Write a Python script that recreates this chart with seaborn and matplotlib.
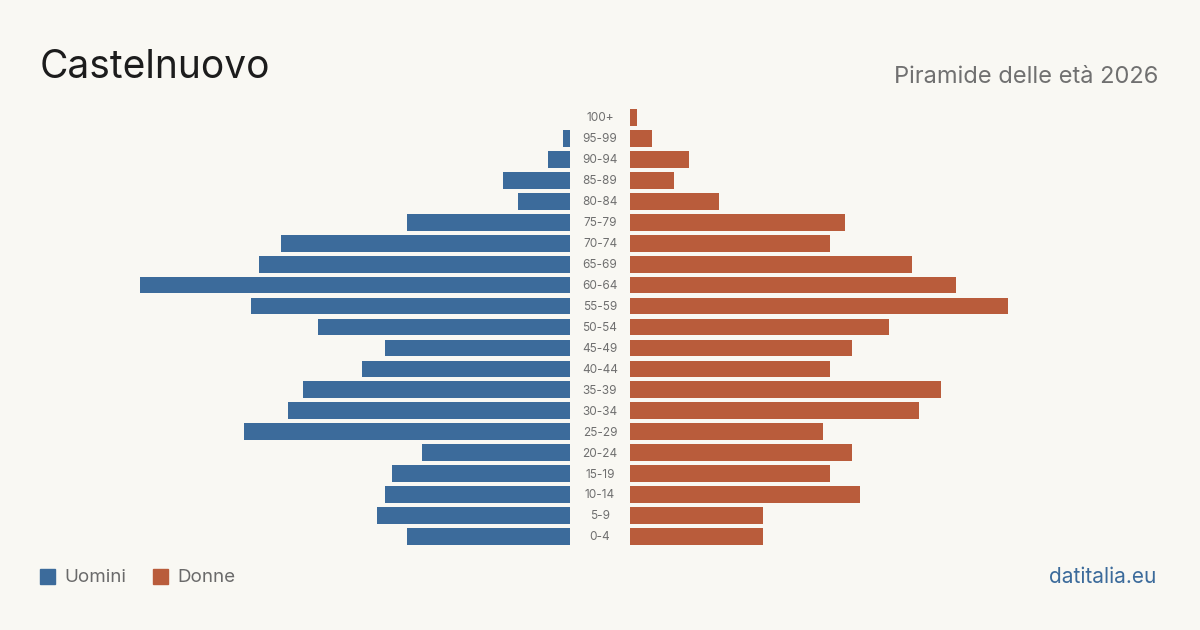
import numpy as np
import pandas as pd
import matplotlib.pyplot as plt
import seaborn as sns

# Age classes, from top (oldest) to bottom
age_groups = ['100+', '95-99', '90-94', '85-89', '80-84', '75-79', '70-74', '65-69',
              '60-64', '55-59', '50-54', '45-49', '40-44', '35-39', '30-34', '25-29',
              '20-24', '15-19', '10-14', '5-9', '0-4']
men = [0, 1, 3, 9, 7, 22, 39, 42, 58, 43, 34, 25, 28, 36, 38, 44, 20, 24, 25, 26, 22]
women = [1, 3, 8, 6, 12, 29, 27, 38, 44, 51, 35, 30, 27, 42, 39, 26, 30, 27, 31, 18, 18]

blue = '#3c6b9b'
orange = '#b95c3b'
bg = '#f9f8f3'

df = pd.DataFrame({'age': age_groups, 'Uomini': men, 'Donne': women})

sns.set_theme(style='white')
plt.rcParams['font.family'] = ['Inter', 'DejaVu Sans']

fig = plt.figure(figsize=(12, 6.3), dpi=100, facecolor=bg)

# pixel geometry -> figure fractions
W, H = 1200, 630
top_px, bot_px = 107, 547
xmax = 71.5
ax_l = fig.add_axes([40 / W, 1 - bot_px / H, 530 / W, (bot_px - top_px) / H])
ax_r = fig.add_axes([630 / W, 1 - bot_px / H, 530 / W, (bot_px - top_px) / H])

sns.barplot(data=df, x='Uomini', y='age', ax=ax_l, color=blue, width=0.8,
            orient='h', saturation=1, linewidth=0)
sns.barplot(data=df, x='Donne', y='age', ax=ax_r, color=orange, width=0.8,
            orient='h', saturation=1, linewidth=0)

ax_l.set_xlim(xmax, 0)
ax_r.set_xlim(0, xmax)
for ax in (ax_l, ax_r):
    ax.set_facecolor('none')
    ax.set_ylim(len(age_groups) - 0.5, -0.5)
    ax.set_xlabel('')
    ax.set_ylabel('')
    ax.set_xticks([])
    ax.set_yticks([])
    sns.despine(ax=ax, left=True, bottom=True)

# age labels in the gap between the two halves
for i, lab in enumerate(age_groups):
    ax_r.text(-30 / 7.41, i + 0.04, lab, ha='center', va='center', fontsize=8.5,
              color='#6f6f6f', clip_on=False)

fig.text(40 / W, 1 - 67 / H, 'Castelnuovo', fontsize=28, color='#1c1c1c',
         ha='left', va='center')
fig.text(1158 / W, 1 - 77 / H, 'Piramide delle età 2026', fontsize=17,
         color='#707070', ha='right', va='center')

# legend
fig.patches.append(plt.Rectangle((40 / W, 1 - 584 / H), 15 / W, 15 / H,
                                 transform=fig.transFigure, color=blue))
fig.text(64 / W, 1 - 577 / H, 'Uomini', fontsize=13.5, color='#6a6a6a',
         ha='left', va='center')
fig.patches.append(plt.Rectangle((153 / W, 1 - 584 / H), 15 / W, 15 / H,
                                 transform=fig.transFigure, color=orange))
fig.text(177 / W, 1 - 577 / H, 'Donne', fontsize=13.5, color='#6a6a6a',
         ha='left', va='center')

fig.text(1156 / W, 1 - 577 / H, 'datitalia.eu', fontsize=15, color=blue,
         ha='right', va='center')

plt.savefig('out.png', dpi=100, facecolor=bg)
